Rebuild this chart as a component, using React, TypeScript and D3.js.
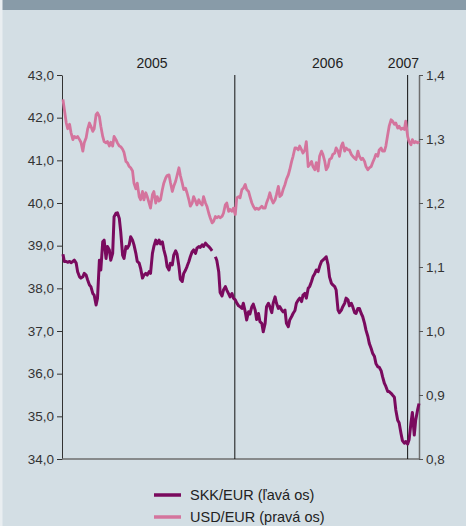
import { useRef, useEffect } from 'react';
import * as d3 from 'd3';

// SKK/EUR, read twice a week (Mon/Thu) from 3 Jan 2005
const skkEur: (number | null)[] = [
  38.80, 38.63, 38.63, 38.61, 38.63, 38.60, 38.63, 38.66, 38.59, 38.39,
  38.27, 38.24, 38.27, 38.35, 38.31, 38.20, 38.08, 38.04, 37.88, 37.84,
  37.61, 37.77, 38.66, 38.43, 39.09, 39.13, 38.70, 38.98, 38.90, 38.66,
  38.82, 39.68, 39.76, 39.77, 39.64, 39.33, 38.78, 38.70, 38.98, 38.94,
  39.02, 39.21, 39.13, 39.02, 38.82, 38.63, 38.59, 38.47, 38.24, 38.31,
  38.35, 38.31, 38.39, 38.35, 38.82,
  38.98, 39.13, 39.04, 39.13, 39.04, 39.09, 38.91, 38.74, 38.51, 38.43,
  38.59, 38.55, 38.78, 38.88, 38.80, 38.51, 38.21, 38.16, 38.35, 38.43,
  38.51, 38.63, 38.74, 38.86, 38.90, 38.82, 38.94, 38.98, 38.96, 39.02,
  38.98, 39.06, 39.02, 38.98, 38.94, 38.88, null, 38.74, 38.65, 38.39,
  37.90, 37.82, 37.96, 38.04, 37.96, 37.87, 37.80, 37.88, 37.77, 37.73,
  37.66, 37.59,
  37.57, 37.53, 37.65, 37.45, 37.26, 37.45, 37.40, 37.57, 37.63, 37.49,
  37.27, 37.41, 37.22, 37.18, 36.98, 37.18, 37.57, 37.65, 37.57, 37.43,
  37.65, 37.80, 37.65, 37.53, 37.57, 37.49, 37.45, 37.49, 37.18, 37.10,
  37.26, 37.34, 37.41, 37.48, 37.65, 37.73, 37.77, 37.69, 37.84, 37.88,
  37.77, 38.00, 38.04, 38.16, 38.27, 38.35, 38.43, 38.39, 38.51, 38.63,
  38.66, 38.70, 38.74, 38.55,
  38.27, 38.12, 38.08, 38.04, 37.96, 37.49, 37.43, 37.49, 37.57, 37.65,
  37.77, 37.73, 37.59, 37.65, 37.57, 37.43, 37.41, 37.53, 37.53, 37.41,
  37.34, 37.18, 37.02, 36.87, 36.71, 36.59, 36.48, 36.40, 36.24, 36.16,
  36.15, 36.07, 35.93, 35.77, 35.70, 35.58, 35.58, 35.54, 35.50, 35.45,
  35.15, 34.91, 34.85, 34.60, 34.43, 34.37, 34.41, 34.35, 34.45, 34.84,
  35.09, 34.56, 34.91, 35.15, 35.30,
];

// USD/EUR, same dates
const usdEur: (number | null)[] = [
  1.362, 1.346, 1.325, 1.316, 1.323, 1.310, 1.299, 1.304, 1.302, 1.304,
  1.299, 1.295, 1.281, 1.294, 1.302, 1.315, 1.325, 1.320, 1.312, 1.316,
  1.338, 1.341, 1.335, 1.320, 1.304, 1.296, 1.294, 1.296, 1.289, 1.295,
  1.289, 1.304, 1.299, 1.294, 1.289, 1.288, 1.284, 1.279, 1.265, 1.263,
  1.257, 1.255, 1.250, 1.231, 1.222, 1.231, 1.210, 1.205, 1.218, 1.205,
  1.216, 1.210, 1.200, 1.192, 1.213,
  1.218, 1.200, 1.210, 1.203, 1.205, 1.221, 1.231, 1.239, 1.243, 1.244,
  1.232, 1.218, 1.226, 1.234, 1.243, 1.255, 1.243, 1.231, 1.221, 1.223,
  1.216, 1.205, 1.195, 1.200, 1.210, 1.203, 1.197, 1.205, 1.200, 1.197,
  1.210, 1.200, 1.195, 1.184, 1.177, 1.169, 1.171, 1.179, 1.177, 1.179,
  1.177, 1.179, 1.184, 1.197, 1.200, 1.187, 1.190, 1.187, 1.192, 1.182,
  1.208, 1.210,
  1.208, 1.221, 1.223, 1.229, 1.221, 1.218, 1.210, 1.200, 1.195, 1.190,
  1.192, 1.190, 1.192, 1.195, 1.192, 1.192, 1.200, 1.208, 1.216, 1.205,
  1.200, 1.205, 1.213, 1.226, 1.210, 1.213, 1.221, 1.229, 1.237, 1.244,
  1.252, 1.265, 1.273, 1.286, 1.286, 1.283, 1.289, 1.283, 1.278, 1.283,
  1.296, 1.257, 1.260, 1.265, 1.257, 1.252, 1.263, 1.250, 1.273, 1.281,
  1.276, 1.265, 1.252, 1.257,
  1.268, 1.270, 1.276, 1.278, 1.286, 1.281, 1.273, 1.289, 1.294, 1.281,
  1.286, 1.283, 1.283, 1.276, 1.273, 1.270, 1.268, 1.281, 1.273, 1.268,
  1.270, 1.265, 1.257, 1.252, 1.255, 1.257, 1.263, 1.270, 1.276, 1.273,
  1.283, 1.286, 1.281, 1.281, 1.289, 1.307, 1.320, 1.330, 1.328, 1.323,
  1.325, 1.317, 1.320, 1.315, 1.317, 1.315, 1.328, 1.304, 1.296, 1.291,
  1.299, 1.294, 1.296, 1.294, 1.296,
];

const leftTicks = [34, 35, 36, 37, 38, 39, 40, 41, 42, 43];
const rightTicks = [0.8, 0.9, 1.0, 1.1, 1.2, 1.3, 1.4];
const yearLabels = [
  { label: '2005', date: new Date(2005, 6, 10), anchor: 'middle' },
  { label: '2006', date: new Date(2006, 6, 16), anchor: 'middle' },
  { label: '2007', date: new Date(2007, 0, 25), anchor: 'end' },
];
const yearBreaks = [new Date(2006, 0, 1), new Date(2007, 0, 1)];
const legendItems = [
  { label: 'SKK/EUR (ľavá os)', color: '#7a0a5e' },
  { label: 'USD/EUR (pravá os)', color: '#d4749d' },
];

const W = 466;
const H = 526;
const FONT = '"Liberation Sans", Arial, sans-serif';

export default function App() {
  const svgRef = useRef<SVGSVGElement>(null);

  useEffect(() => {
    if (!svgRef.current) return;
    const svg = d3.select(svgRef.current);
    svg.selectAll('*').remove();

    // trading dates: Monday and Thursday of each week
    const start = new Date(2005, 0, 3);
    const dates = skkEur.map((_, i) =>
      d3.timeDay.offset(start, 7 * Math.floor(i / 2) + 3 * (i % 2))
    );

    const x = d3.scaleTime()
      .domain([new Date(2005, 0, 1), dates[dates.length - 1]])
      .range([62, 419]);
    const yL = d3.scaleLinear().domain([34, 43]).range([459, 75]);
    const yR = d3.scaleLinear().domain([0.8, 1.4]).range([459, 75]);

    // background
    svg.append('rect').attr('width', W).attr('height', H).attr('fill', '#d3dee4');
    svg.append('rect').attr('width', W).attr('height', 10).attr('fill', '#889ba8');
    svg.append('rect').attr('width', 2.5).attr('height', H).attr('fill', '#e9eef1');

    const fmt = (d: d3.NumberValue) => (d as number).toFixed(1).replace('.', ',');

    // left axis
    const gL = svg.append('g')
      .attr('transform', `translate(${x.range()[0]},0)`)
      .call(d3.axisLeft(yL).tickValues(leftTicks).tickSize(5).tickSizeOuter(0).tickPadding(3).tickFormat(fmt));
    gL.select('.domain').attr('stroke', '#333');
    gL.selectAll('line').attr('stroke', '#333');
    gL.selectAll('text').attr('fill', '#333').attr('font-size', 13.5).attr('font-family', FONT);

    // right axis
    const gR = svg.append('g')
      .attr('transform', `translate(${x.range()[1]},0)`)
      .call(d3.axisRight(yR).tickValues(rightTicks).tickSize(4).tickSizeOuter(0).tickPadding(3).tickFormat(fmt));
    gR.select('.domain').attr('stroke', '#6e6e6e').attr('stroke-width', 1.5);
    gR.selectAll('line').attr('stroke', '#555');
    gR.selectAll('text').attr('fill', '#333').attr('font-size', 13.5).attr('font-family', FONT);

    // bottom line
    svg.append('line')
      .attr('x1', x.range()[0]).attr('x2', x.range()[1])
      .attr('y1', yL(34)).attr('y2', yL(34))
      .attr('stroke', '#6e6e6e').attr('stroke-width', 1.5);

    // year breaks
    svg.selectAll('.yb')
      .data(yearBreaks)
      .enter().append('line')
      .attr('x1', d => x(d)).attr('x2', d => x(d))
      .attr('y1', yL(43)).attr('y2', yL(34))
      .attr('stroke', '#111').attr('stroke-width', 1);

    svg.selectAll('.yl')
      .data(yearLabels)
      .enter().append('text')
      .attr('x', d => x(d.date))
      .attr('y', 68)
      .attr('text-anchor', d => d.anchor)
      .attr('font-size', 14)
      .attr('font-family', FONT)
      .attr('fill', '#222')
      .text(d => d.label);

    // series
    const usdLine = d3.line<number | null>()
      .defined(d => d !== null)
      .x((_, i) => x(dates[i]))
      .y(d => yR(d as number));
    const skkLine = d3.line<number | null>()
      .defined(d => d !== null)
      .x((_, i) => x(dates[i]))
      .y(d => yL(d as number));

    svg.append('path')
      .attr('d', usdLine(usdEur))
      .attr('fill', 'none')
      .attr('stroke', legendItems[1].color)
      .attr('stroke-width', 2.8)
      .attr('stroke-linejoin', 'round');
    svg.append('path')
      .attr('d', skkLine(skkEur))
      .attr('fill', 'none')
      .attr('stroke', legendItems[0].color)
      .attr('stroke-width', 3)
      .attr('stroke-linejoin', 'round');

    // legend
    const lg = svg.selectAll('.lg')
      .data(legendItems)
      .enter().append('g')
      .attr('transform', (_, i) => `translate(154,${495 + i * 22})`);
    lg.append('line')
      .attr('x1', 0).attr('x2', 27)
      .attr('stroke', d => d.color)
      .attr('stroke-width', 3.5);
    lg.append('text')
      .attr('x', 36)
      .attr('y', 5)
      .attr('font-size', 14.5)
      .attr('font-family', FONT)
      .attr('fill', '#222')
      .text(d => d.label);
  }, []);

  return (
    <svg
      ref={svgRef}
      width={W}
      height={H}
      style={{ position: 'absolute', left: 0, top: 0 }}
    />
  );
}
